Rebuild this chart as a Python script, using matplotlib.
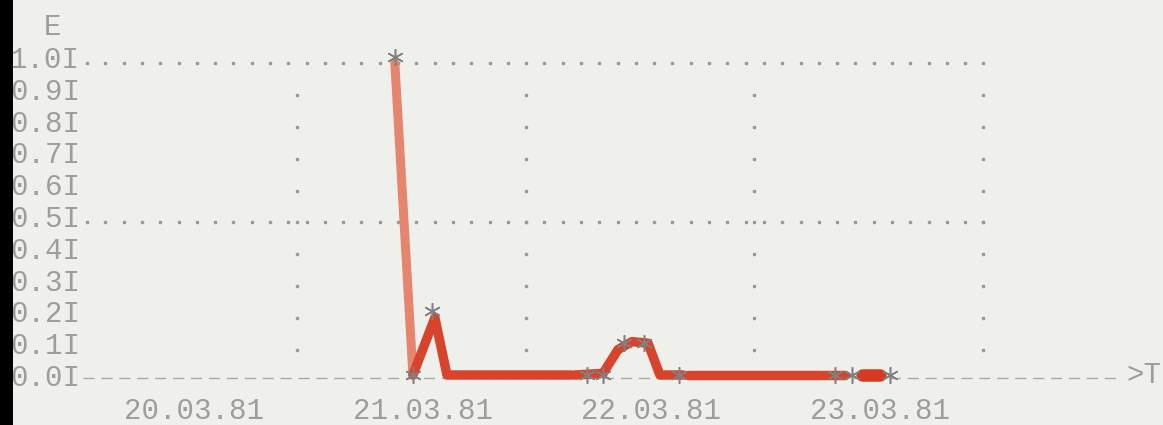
import matplotlib.pyplot as plt
import numpy as np
from matplotlib.patches import Rectangle

# time axis: days since 20.03.81 00:00 (grid columns at day boundaries)
date_labels = ["20.03.81", "21.03.81", "22.03.81", "23.03.81"]
date_pos = [0.55, 1.55, 2.55, 3.55]
day_lines = [1, 2, 3, 4]

e_levels = [0.0, 0.1, 0.2, 0.3, 0.4, 0.5, 0.6, 0.7, 0.8, 0.9, 1.0]
e_labels = ["0.0I", "0.1I", "0.2I", "0.3I", "0.4I", "0.5I",
            "0.6I", "0.7I", "0.8I", "0.9I", "1.0I"]

# printed points (asterisks)
star_t = [1.428, 1.507, 1.590, 2.268, 2.338, 2.430, 2.517, 2.670, 3.352, 3.427, 3.593]
star_e = [1.0, 0.0, 0.20, 0.0, 0.0, 0.10, 0.10, 0.0, 0.0, 0.0, 0.0]

# hand drawn red trace
drop_t = [1.428, 1.507]
drop_e = [0.98, 0.0]
seg1_t = [1.507, 1.603, 1.656, 2.200]
seg1_e = [0.0, 0.18, 0.0, 0.0]
seg2_t = [2.215, 2.338, 2.404, 2.465, 2.535, 2.587, 2.688]
seg2_e = [0.0, 0.005, 0.08, 0.105, 0.10, 0.0, 0.0]
seg3_t = [2.710, 3.396]
seg3_e = [0.0, 0.0]
blob_t = [3.470, 3.549]
blob_e = [0.0, 0.0]

paper = "#efefec"
ink = "#9d9d9d"
dots = "#9a9a9a"
red = "#d8442b"
mono = "Liberation Mono"

fig = plt.figure(figsize=(11.63, 4.25), dpi=100, facecolor=paper)
W, H = 1163, 425
ax = fig.add_axes([87 / W, (H - 375) / H, (W - 87) / W, 318 / H])
ax.set_facecolor("none")
ax.set_xlim(0.0818, 4.787)
ax.set_ylim(0, 1)
for s in ax.spines.values():
    s.set_visible(False)

# axis labels as printed
ax.set_yticks(e_levels, e_labels, family=mono, fontsize=21, color=ink)
ax.set_xticks(date_pos, date_labels, family=mono, fontsize=21, color=ink)
ax.tick_params(length=0)
ax.tick_params(axis="y", pad=5)
ax.tick_params(axis="x", pad=16)

# dotted grid rows at 1.0 and 0.5
row_t = np.arange(0.082, 4.01, 0.08)
for lev in [1.0, 0.5]:
    ax.plot(row_t, np.full(len(row_t), lev - 0.02), ls="none", marker="s",
            ms=1.8, color=dots, clip_on=False)
# dotted columns
col_e = np.arange(1, 10) / 10
for d in day_lines:
    ax.plot([d] * len(col_e), col_e - 0.02, ls="none", marker="s", ms=1.8,
            color=dots, clip_on=False)

# baseline and arrow
ax.plot([0.064, 4.60], [-0.01, -0.01], color="#a8a8a8", lw=1.0,
        dashes=(8.0, 4.9), clip_on=False)
ax.text(4.78, 0.0, ">T", family=mono, fontsize=21, color=ink,
        ha="right", va="center", clip_on=False)
fig.text(52 / W, 1 - 27 / H, "E", family=mono, fontsize=21, color=ink,
         ha="center", va="center")

# red trace
ax.plot(drop_t, drop_e, color="#e67a62", lw=6.5, alpha=0.9,
        solid_capstyle="round", clip_on=False, zorder=3)
for tt, ee in [(seg1_t, seg1_e), (seg2_t, seg2_e), (seg3_t, seg3_e)]:
    ax.plot(tt, ee, color=red, lw=6.8, solid_capstyle="round",
            solid_joinstyle="round", clip_on=False, zorder=3)
ax.plot(blob_t, blob_e, color="#d63b22", lw=9, solid_capstyle="round",
        clip_on=False, zorder=3)

# printed asterisks
ax.plot(star_t, star_e, ls="none", marker=(6, 2, 0), ms=12, mew=1.1,
        color="#808080", clip_on=False, zorder=4)

# dark scanner edge on the left
fig.patches.append(Rectangle((0, 0), 13 / W, 1, transform=fig.transFigure,
                             facecolor="black", edgecolor="none", zorder=10))

fig.savefig("out.png", dpi=100, facecolor=paper)
